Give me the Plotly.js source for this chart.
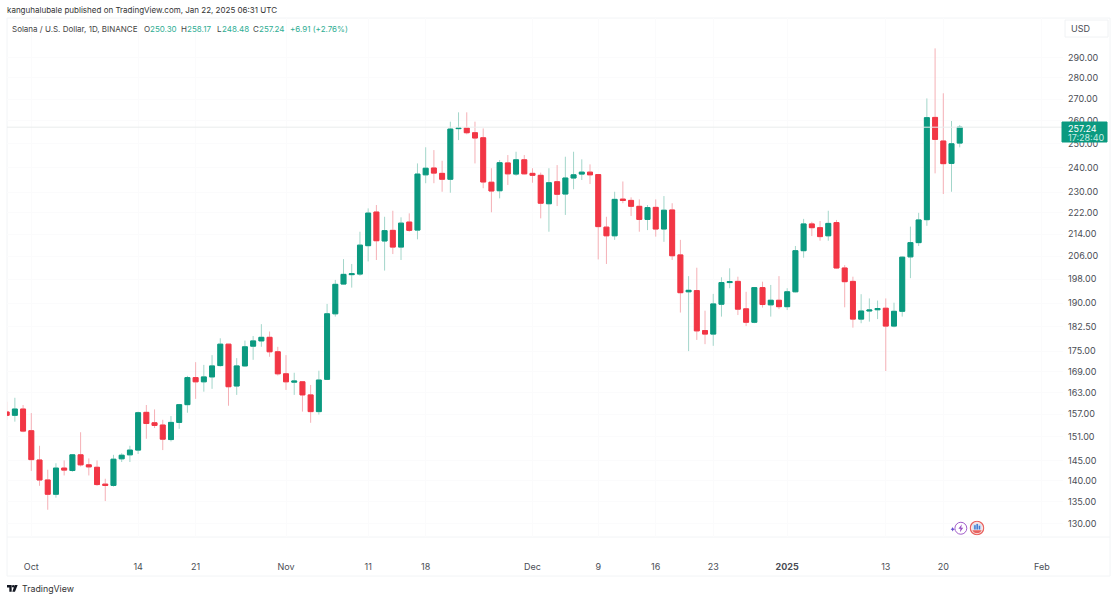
<!doctype html>
<html><head><meta charset="utf-8">
<script src="https://cdn.plot.ly/plotly-3.0.1.min.js"></script>
<style>html,body{margin:0;padding:0;background:#fff}#c{width:1117px;height:600px}</style></head>
<body><div id="c"></div>
<script>
const dates=["2024-09-28","2024-09-29","2024-09-30","2024-10-01","2024-10-02","2024-10-03","2024-10-04","2024-10-05","2024-10-06","2024-10-07","2024-10-08","2024-10-09","2024-10-10","2024-10-11","2024-10-12","2024-10-13","2024-10-14","2024-10-15","2024-10-16","2024-10-17","2024-10-18","2024-10-19","2024-10-20","2024-10-21","2024-10-22","2024-10-23","2024-10-24","2024-10-25","2024-10-26","2024-10-27","2024-10-28","2024-10-29","2024-10-30","2024-10-31","2024-11-01","2024-11-02","2024-11-03","2024-11-04","2024-11-05","2024-11-06","2024-11-07","2024-11-08","2024-11-09","2024-11-10","2024-11-11","2024-11-12","2024-11-13","2024-11-14","2024-11-15","2024-11-16","2024-11-17","2024-11-18","2024-11-19","2024-11-20","2024-11-21","2024-11-22","2024-11-23","2024-11-24","2024-11-25","2024-11-26","2024-11-27","2024-11-28","2024-11-29","2024-11-30","2024-12-01","2024-12-02","2024-12-03","2024-12-04","2024-12-05","2024-12-06","2024-12-07","2024-12-08","2024-12-09","2024-12-10","2024-12-11","2024-12-12","2024-12-13","2024-12-14","2024-12-15","2024-12-16","2024-12-17","2024-12-18","2024-12-19","2024-12-20","2024-12-21","2024-12-22","2024-12-23","2024-12-24","2024-12-25","2024-12-26","2024-12-27","2024-12-28","2024-12-29","2024-12-30","2024-12-31","2025-01-01","2025-01-02","2025-01-03","2025-01-04","2025-01-05","2025-01-06","2025-01-07","2025-01-08","2025-01-09","2025-01-10","2025-01-11","2025-01-12","2025-01-13","2025-01-14","2025-01-15","2025-01-16","2025-01-17","2025-01-18","2025-01-19","2025-01-20","2025-01-21","2025-01-22"];
const open=[157.6,156.7,158.4,152.6,145.1,140.2,136.8,143.1,142.5,146.4,143.9,143.3,139.2,138.9,145.4,146.4,147.6,157.5,154.7,154.1,150.3,154.8,159.6,167.2,166.0,167.4,170.7,177.1,164.8,170.6,176.5,178.1,179.2,174.8,168.3,165.9,166.0,162.3,157.7,166.7,186.6,196.4,199.6,199.8,209.8,222.3,211.5,215.4,209.3,218.5,215.5,237.0,239.8,237.6,235.2,256.6,256.9,254.8,252.6,234.0,230.6,241.9,237.3,243.2,237.6,236.8,225.5,234.2,229.3,235.7,237.3,238.1,237.1,216.6,213.4,227.3,226.8,224.5,219.5,224.1,215.9,223.1,206.5,193.8,194.2,181.3,180.2,189.7,196.9,197.3,188.2,183.9,195.2,189.5,191.0,188.9,193.8,208.0,217.8,216.4,213.4,218.3,201.9,197.3,184.9,187.5,187.9,188.4,182.7,187.4,205.8,210.9,219.4,261.6,251.2,241.7,250.30];
const high=[160.4,161.5,159.5,157.3,148.7,142.7,144.3,145.0,146.6,152.2,145.5,145.0,140.5,146.4,146.8,148.7,157.7,159.5,158.3,155.5,156.5,159.8,167.7,171.7,170.9,173.8,178.9,177.1,172.9,178.2,179.6,183.3,181.0,176.3,173.8,168.6,166.0,165.1,169.2,189.8,197.8,205.0,203.3,214.9,223.7,225.0,220.5,222.8,220.3,221.8,241.7,248.5,247.3,242.8,259.7,263.9,263.9,259.7,256.7,239.7,243.1,245.2,246.6,245.2,239.7,237.9,239.7,241.0,244.5,246.6,243.4,241.3,237.3,220.5,230.2,234.3,228.0,227.2,225.0,227.2,228.5,225.7,211.9,199.1,202.0,187.6,193.1,198.7,201.8,198.9,193.8,195.4,197.2,196.1,199.1,195.0,209.7,219.7,218.6,218.9,222.8,219.3,202.9,198.9,193.0,191.6,190.9,191.6,190.2,205.9,216.8,222.0,270.3,294.6,272.7,260.0,258.17];
const low=[155.5,155.0,152.2,142.4,138.8,133.2,136.0,141.3,142.2,143.5,141.3,138.8,135.2,138.6,144.6,144.6,146.6,150.5,153.3,147.6,149.8,153.1,157.4,161.2,163.2,164.0,170.4,159.3,162.3,170.4,172.4,176.3,173.3,167.8,163.7,162.3,157.7,154.7,156.9,166.5,185.7,196.3,195.2,199.2,204.2,204.7,201.0,206.8,204.7,214.9,212.1,233.6,233.6,230.2,229.8,251.6,254.1,241.7,231.6,222.2,227.6,232.9,236.6,237.2,233.8,219.9,214.9,224.6,221.2,231.2,234.9,233.3,204.9,203.3,211.9,225.7,220.8,214.9,215.5,213.1,211.2,204.7,187.0,175.0,178.4,177.1,176.6,185.7,195.0,186.2,182.7,183.6,188.6,185.7,188.1,187.8,193.6,205.5,213.3,211.6,211.6,201.7,188.7,182.2,183.6,184.1,184.9,169.1,182.3,185.7,198.4,209.7,217.1,237.6,229.3,230.2,248.48];
const close=[156.7,158.4,152.5,145.2,140.2,136.8,143.1,142.6,146.4,143.9,143.4,139.1,138.9,145.3,146.3,147.6,157.4,154.5,154.0,150.4,154.8,159.6,167.2,166.0,167.4,170.6,177.1,164.6,170.6,176.3,178.1,179.2,174.8,168.3,166.0,166.2,162.3,157.7,166.5,186.6,196.3,199.7,199.9,210.0,221.9,211.6,215.3,209.3,218.1,215.4,237.3,239.7,237.7,235.2,256.4,256.9,254.8,252.5,234.1,230.5,242.0,237.4,243.2,237.4,236.8,225.7,233.8,229.2,235.7,237.0,238.1,237.0,216.8,213.4,227.2,226.8,224.5,219.5,224.0,215.9,223.0,206.2,193.5,194.3,181.2,180.2,189.8,196.9,197.2,188.1,183.9,195.2,189.6,191.0,188.9,193.8,208.0,217.8,216.4,213.1,218.0,201.9,197.2,184.9,187.5,187.8,188.3,182.7,187.4,205.7,210.9,219.3,261.5,251.9,241.6,250.0,257.24];
const priceTicks=[130,135,140,145,151,157,163,169,175,182.5,190,198,206,214,222,230,240,250,260,270,280,290];
const dateTicks=["2024-10-01","2024-10-14","2024-10-21","2024-11-01","2024-11-11","2024-11-18","2024-12-01","2024-12-09","2024-12-16","2024-12-23","2025-01-01","2025-01-13","2025-01-20","2025-02-01"];
const dateLabels=["Oct","14","21","Nov","11","18","Dec","9","16","23","<b>2025</b>","13","20","Feb"];
const lastClose=close[close.length-1];
const GREEN="#0b9a80",RED="#f23645",GW="#a3d6ca",RW="#f5b0b6",TXT="#4a4d55",VAL="#2fae94",GRID="#fbfbfc";
const FONT="Inter, 'Open Sans', sans-serif";
const W=1117,H=600,L=7,R=1063,T=18,B=537;
const px=v=>(v-L)/(R-L), py=v=>(B-v)/(B-T);
const bodyHigh=open.map((o,i)=>Math.max(o,close[i])), bodyLow=open.map((o,i)=>Math.min(o,close[i]));
const xRange=["2024-09-28 01:00","2025-02-03 13:40"];
const wicks={type:"candlestick",x:dates,open,high,low,close,whiskerwidth:0,hoverinfo:"skip",
  increasing:{line:{color:GW,width:1},fillcolor:GW},decreasing:{line:{color:RW,width:1},fillcolor:RW}};
const bodies={type:"candlestick",x:dates,open,high:bodyHigh,low:bodyLow,close,whiskerwidth:0,hoverinfo:"skip",
  increasing:{line:{color:GREEN,width:1},fillcolor:GREEN},decreasing:{line:{color:RED,width:1},fillcolor:RED}};
const priceLine={type:"scatter",mode:"lines",x:xRange,y:[lastClose,lastClose],line:{color:"#e9ecec",width:1},hoverinfo:"skip"};
const logoSvg="<svg xmlns='http://www.w3.org/2000/svg' viewBox='0 0 36 20'><path fill='#131722' d='M14 1H0v7h7v11h7zM24 19h-8l7-18h9z'/><circle cx='18.5' cy='4.5' r='3.5' fill='#131722'/></svg>";
const boltSvg="<svg xmlns='http://www.w3.org/2000/svg' viewBox='0 0 20 16'><circle cx='11.5' cy='8' r='6.6' fill='#fff' stroke='#a05cc9' stroke-width='1.1'/><path fill='#9a52c4' d='M12.6 3.6 8.8 8.6h2.3l-.7 3.8 3.8-5h-2.3z'/><path fill='#6a4fd0' d='M2.4 6.6l.8 1.7 1.7.8-1.7.8-.8 1.7-.8-1.7L0 9.1l1.6-.8z'/></svg>";
const flagSvg="<svg xmlns='http://www.w3.org/2000/svg' viewBox='0 0 16 16'><circle cx='8' cy='8' r='7.2' fill='#f7e6e6' stroke='#e8625f' stroke-width='1.3'/><path fill='#e8625f' d='M3 10.5h10a5.6 5.6 0 0 1-10 0z'/><rect x='3.4' y='4' width='9.2' height='5.6' fill='#cfe0f5'/><rect x='5' y='5' width='1.6' height='4.6' fill='#3f7ad0'/><rect x='7.4' y='3.6' width='1.6' height='6' fill='#3f7ad0'/><rect x='9.8' y='5.6' width='1.6' height='4' fill='#3f7ad0'/></svg>";
const img=(svg,x0,y0,x1,y1)=>({source:"data:image/svg+xml;utf8,"+encodeURIComponent(svg),xref:"paper",yref:"paper",x:px(x0),y:py(y0),sizex:px(x1)-px(x0),sizey:py(y0)-py(y1),xanchor:"left",yanchor:"top",sizing:"stretch",layer:"above"});
const note=(text,x,y,size,color)=>({text,xref:"paper",yref:"paper",x:px(x-2),y:py(y),xanchor:"left",yanchor:"middle",showarrow:false,align:"left",font:{family:FONT,size,color}});
const frame=(x0,y0,x1,y1)=>({type:"line",xref:"paper",yref:"paper",x0:px(x0),y0:py(y0),x1:px(x1),y1:py(y1),line:{color:"#f2f4f6",width:1},layer:"below"});
const rect=(x0,y0,x1,y1,fill,line,layer)=>({type:"rect",xref:"paper",yref:"paper",x0:px(x0),y0:py(y0),x1:px(x1),y1:py(y1),fillcolor:fill,line:{color:line,width:1},layer});
const layout={width:W,height:H,margin:{l:L,r:W-R,t:T,b:H-B,pad:0},paper_bgcolor:"#fff",plot_bgcolor:"#fff",showlegend:false,boxgap:0.14,
  xaxis:{type:"date",range:xRange,rangeslider:{visible:false},tickmode:"array",tickvals:dateTicks,ticktext:dateLabels,tickangle:0,
    showgrid:true,gridcolor:GRID,gridwidth:1,zeroline:false,showline:false,ticks:"",ticklabelstandoff:23,tickfont:{family:FONT,size:9,color:TXT}},
  yaxis:{type:"log",side:"right",range:[Math.log10(127.1),Math.log10(310.4)],tickmode:"array",tickvals:priceTicks,ticktext:priceTicks.map(p=>p.toFixed(2)),
    showgrid:true,gridcolor:GRID,gridwidth:1,zeroline:false,showline:false,ticks:"",ticklabelstandoff:4,tickfont:{family:FONT,size:9,color:TXT}},
  shapes:[frame(7,18,7,576),frame(7,576,1110,576),frame(1110,18,1110,576),frame(7,18,1110,18),frame(7,537,1110,537),
    rect(1065,20,1108,37,"rgba(255,255,255,0)","#f0f2f4","above"),
    rect(1062,122,1107,142,GREEN,GREEN,"above")],
  images:[img(logoSvg,7,584.5,19,592),img(boltSvg,950.5,521,968.5,535.5),img(flagSvg,969.5,520.5,984.5,535.5)],
  annotations:[
    note("kanguhalubale published on TradingView.com, Jan 22, 2025 06:31 UTC",7,10.5,8,"#333"),
    note("Solana / U.S. Dollar, 1D, BINANCE",12,29,8,"#444"),
    note("O",144,29,8,"#444"),note("250.30",150,29,8,VAL),
    note("H",181,29,8,"#444"),note("258.17",187,29,8,VAL),
    note("L",216.7,29,8,"#444"),note("248.48",222,29,8,VAL),
    note("C",253,29,8,"#444"),note("257.24",259,29,8,VAL),
    note("+6.91 (+2.76%)",289.5,29,8,VAL),
    note("TradingView",21.5,588.5,8.8,"#333"),
    note("USD",1071,29,9,TXT),
    note("257.24",1068,128,9,"#fff"),
    note("17:28:40",1068,137,9,"#c9ece3")
  ]};
Plotly.newPlot("c",[priceLine,wicks,bodies],layout,{displayModeBar:false,staticPlot:true,responsive:false});
</script></body></html>
